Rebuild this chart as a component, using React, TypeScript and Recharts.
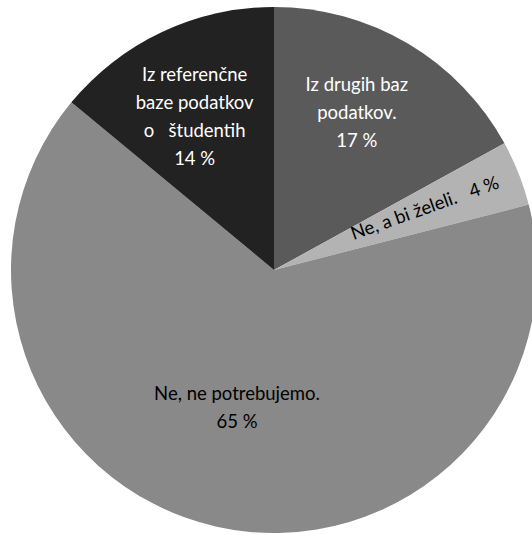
import { PieChart, Pie, Cell } from "recharts";

const categories = [
  "Iz drugih baz podatkov.",
  "Ne, a bi želeli.",
  "Ne, ne potrebujemo.",
  "Iz referenčne baze podatkov o študentih",
];
const shares = [17, 4, 65, 14];

// label text lines per slice, as they wrap inside the pie
const labelLines = [
  ["Iz drugih baz", "podatkov.", "17 %"],
  ["Ne, a bi želeli.   4 %"],
  ["Ne, ne potrebujemo.", "65 %"],
  ["Iz referenčne", "baze podatkov", "o   študentih", "14 %"],
];

const colors = ["#5a5a5a", "#b3b3b3", "#898989", "#222222"];
const textColors = ["#ffffff", "#000000", "#000000", "#ffffff"];
// radial placement of each label (fraction of radius, angle nudge in degrees)
const labelRadius = [0.68, 0.62, 0.54, 0.66];
const labelNudge = [3, 1, -2.5, 2];
const rotateLabel = [false, true, false, false];

const data = categories.map((name, i) => ({ name, value: shares[i] }));

const RAD = Math.PI / 180;
const FONT = "Lato, 'Open Sans', sans-serif";
const LINE_H = 28;

function renderLabel(props: any) {
  const { cx, cy, midAngle, outerRadius, index } = props;
  const a = midAngle + labelNudge[index];
  const r = outerRadius * labelRadius[index];
  const x = cx + r * Math.cos(a * RAD);
  const y = cy - r * Math.sin(a * RAD);
  const lines = labelLines[index];
  const top = y - ((lines.length - 1) * LINE_H) / 2;
  return (
    <text
      key={`lbl-${index}`}
      x={x}
      y={top}
      fill={textColors[index]}
      textAnchor="middle"
      dominantBaseline="central"
      fontFamily={FONT}
      fontSize={18.5}
      transform={rotateLabel[index] ? `rotate(${-midAngle + 2} ${x} ${y})` : undefined}
    >
      {lines.map((l, j) => (
        <tspan key={j} x={x} y={top + j * LINE_H} style={{ whiteSpace: "pre" }}>
          {l}
        </tspan>
      ))}
    </text>
  );
}

export default function App() {
  return (
    <div style={{ width: 532, height: 535, overflow: "hidden", position: "absolute", left: 0, top: 0, background: "#fff" }}>
      <PieChart width={532} height={535} margin={{ top: 0, right: 0, bottom: 0, left: 0 }}>
        <Pie
          data={data}
          dataKey="value"
          nameKey="name"
          cx={274}
          cy={270}
          outerRadius={263}
          startAngle={90}
          endAngle={-270}
          stroke="none"
          label={renderLabel}
          labelLine={false}
          isAnimationActive={false}
        >
          {data.map((d, i) => (
            <Cell key={d.name} fill={colors[i]} />
          ))}
        </Pie>
      </PieChart>
    </div>
  );
}
